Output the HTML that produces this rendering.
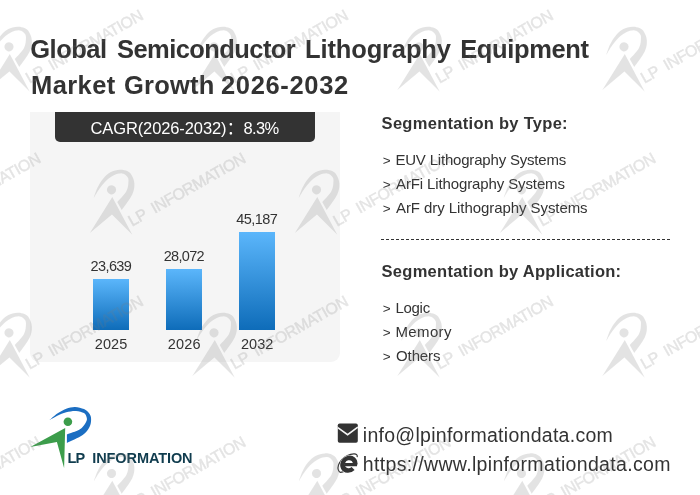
<!DOCTYPE html>
<html><head><meta charset="utf-8"><title>Global Semiconductor Lithography Equipment Market Growth 2026-2032</title>
<style>
html,body{margin:0;padding:0;}
body{width:700px;height:495px;background:#fff;position:relative;overflow:hidden;font-family:"Liberation Sans","Noto Sans CJK SC",sans-serif;color:#333;}
.abs,.t{position:absolute;white-space:nowrap;}
.title,.h{font-weight:bold;}
.badge{color:#fff;}
#panel{left:30px;top:112px;width:310px;height:250px;background:#f5f5f5;border-radius:0 0 9px 9px;}
#badgebg{left:55px;top:112px;width:260px;height:30px;background:#333;border-radius:0 0 5px 5px;}
.bar{background:linear-gradient(#5bb6fb,#0e6cb9);}
#dash{left:381px;top:239px;width:290px;height:1px;background:repeating-linear-gradient(90deg,#333 0,#333 3px,transparent 3px,transparent 5.02px);}
svg{position:absolute;left:0;top:0;}
</style></head><body>
<div class="abs" id="panel"></div>
<div class="abs" id="badgebg"></div>
<div class="abs bar" style="left:93px;top:279px;width:35.5px;height:50.6px"></div>
<div class="abs bar" style="left:166px;top:269px;width:35.5px;height:60.6px"></div>
<div class="abs bar" style="left:239px;top:232px;width:35.5px;height:97.6px"></div>
<div class="abs" id="dash"></div>
<div class="t title" style="left:30.25px;top:34.16px;font-size:25.5px;line-height:31px;letter-spacing:-0.501px">Global</div>
<div class="t title" style="left:117.00px;top:34.16px;font-size:25.5px;line-height:31px;letter-spacing:-0.574px">Semiconductor</div>
<div class="t title" style="left:305.00px;top:34.16px;font-size:25.5px;line-height:31px;letter-spacing:-0.134px">Lithography</div>
<div class="t title" style="left:460.20px;top:34.16px;font-size:25.5px;line-height:31px;letter-spacing:-0.357px">Equipment</div>
<div class="t title" style="left:31.00px;top:69.91px;font-size:25.5px;line-height:31px;letter-spacing:0.418px">Market</div>
<div class="t title" style="left:124.00px;top:69.91px;font-size:25.5px;line-height:31px;letter-spacing:0.228px">Growth</div>
<div class="t title" style="left:221.00px;top:69.91px;font-size:25.5px;line-height:31px;letter-spacing:0.654px">2026-2032</div>
<div class="t badge" style="left:90.50px;top:118.18px;font-size:16.5px;line-height:20px;letter-spacing:-0.112px">CAGR(2026-2032)</div>
<div class="t badge" style="left:226.80px;top:118.18px;font-size:16.5px;line-height:20px;letter-spacing:0.000px">：</div>
<div class="t badge" style="left:243.50px;top:118.18px;font-size:16.5px;line-height:20px;letter-spacing:-0.646px">8.3%</div>
<div class="t val" style="left:90.60px;top:257.68px;font-size:14.5px;line-height:17px;letter-spacing:-0.617px">23,639</div>
<div class="t val" style="left:163.70px;top:247.78px;font-size:14.5px;line-height:17px;letter-spacing:-0.677px">28,072</div>
<div class="t val" style="left:236.20px;top:210.68px;font-size:14.5px;line-height:17px;letter-spacing:-0.557px">45,187</div>
<div class="t yr" style="left:94.70px;top:335.78px;font-size:14.5px;line-height:17px;letter-spacing:0.136px">2025</div>
<div class="t yr" style="left:167.80px;top:335.78px;font-size:14.5px;line-height:17px;letter-spacing:0.136px">2026</div>
<div class="t yr" style="left:241.00px;top:335.78px;font-size:14.5px;line-height:17px;letter-spacing:0.002px">2032</div>
<div class="t h" style="left:381.60px;top:113.28px;font-size:16.5px;line-height:20px;letter-spacing:0.285px">Segmentation by Type:</div>
<div class="t li" style="left:382.80px;top:152.62px;font-size:13.5px;line-height:16px;letter-spacing:0.000px">&gt;</div>
<div class="t li" style="left:395.40px;top:151.10px;font-size:15px;line-height:18px;letter-spacing:-0.190px">EUV Lithography Systems</div>
<div class="t li" style="left:382.80px;top:176.82px;font-size:13.5px;line-height:16px;letter-spacing:0.000px">&gt;</div>
<div class="t li" style="left:396.00px;top:175.30px;font-size:15px;line-height:18px;letter-spacing:-0.119px">ArFi Lithography Systems</div>
<div class="t li" style="left:382.80px;top:200.82px;font-size:13.5px;line-height:16px;letter-spacing:0.000px">&gt;</div>
<div class="t li" style="left:396.00px;top:199.30px;font-size:15px;line-height:18px;letter-spacing:-0.069px">ArF dry Lithography Systems</div>
<div class="t h" style="left:381.60px;top:261.38px;font-size:16.5px;line-height:20px;letter-spacing:0.269px">Segmentation by Application:</div>
<div class="t li" style="left:382.80px;top:300.52px;font-size:13.5px;line-height:16px;letter-spacing:0.000px">&gt;</div>
<div class="t li" style="left:395.40px;top:299.00px;font-size:15px;line-height:18px;letter-spacing:-0.265px">Logic</div>
<div class="t li" style="left:382.80px;top:324.52px;font-size:13.5px;line-height:16px;letter-spacing:0.000px">&gt;</div>
<div class="t li" style="left:395.40px;top:323.00px;font-size:15px;line-height:18px;letter-spacing:0.386px">Memory</div>
<div class="t li" style="left:382.80px;top:348.52px;font-size:13.5px;line-height:16px;letter-spacing:0.000px">&gt;</div>
<div class="t li" style="left:396.00px;top:347.00px;font-size:15px;line-height:18px;letter-spacing:-0.103px">Others</div>
<div class="t ct" style="left:362.80px;top:423.64px;font-size:19.5px;line-height:23px;letter-spacing:0.278px">info@lpinformationdata.com</div>
<div class="t ct" style="left:362.80px;top:452.74px;font-size:19.5px;line-height:23px;letter-spacing:0.334px">https://www.lpinformationdata.com</div>
<svg id="logo" width="700" height="495" viewBox="0 0 700 495">
<defs>
<g id="mark">
<path class="arc" d="M -18.4,-1.5 C -17.10,-2.60 -13.38,-6.18 -10.60,-8.10 C -7.82,-10.02 -4.67,-11.88 -1.70,-13.00 C 1.27,-14.12 4.23,-14.87 7.20,-14.80 C 10.17,-14.73 13.73,-13.72 16.10,-12.60 C 18.47,-11.48 20.22,-9.73 21.40,-8.10 C 22.58,-6.47 23.17,-5.05 23.20,-2.80 C 23.23,-0.55 23.00,2.70 21.60,5.40 C 20.20,8.10 18.57,10.75 14.80,13.40 C 11.03,16.05 1.63,19.98 -1.00,21.30 L -1,12.7 C 1.12,11.90 8.55,9.90 11.70,7.90 C 14.85,5.90 16.70,2.63 17.90,0.70 C 19.10,-1.23 19.20,-2.15 18.90,-3.70 C 18.60,-5.25 17.90,-7.42 16.10,-8.60 C 14.30,-9.78 11.07,-10.65 8.10,-10.80 C 5.13,-10.95 1.42,-10.32 -1.70,-9.50 C -4.82,-8.68 -7.82,-7.23 -10.60,-5.90 C -13.38,-4.57 -17.10,-2.23 -18.40,-1.50 Z"/>
<g class="grn"><circle cx="0" cy="0" r="4.3"/>
<path d="M -37.6,25.2 L -2.7,6.3 L -3.8,46.4 L -11,20.3 Z"/></g>
</g>
<g id="wm" fill="#7a7a7a" opacity="0.2" transform="rotate(-29.5) scale(1.065)">
<use href="#mark"/>
<text y="39.6" font-family="Liberation Sans, sans-serif" font-size="15" stroke="#7a7a7a" stroke-width="0.45"><tspan x="-0.3" textLength="18" lengthAdjust="spacing">LP</tspan> <tspan x="24.3" textLength="99.5" lengthAdjust="spacing">INFORMATION</tspan></text>
</g>
</defs>
<g transform="translate(67.9,421.7)">
<path fill="#1b6ec2" d="M -18.4,-1.5 C -17.10,-2.60 -13.38,-6.18 -10.60,-8.10 C -7.82,-10.02 -4.67,-11.88 -1.70,-13.00 C 1.27,-14.12 4.23,-14.87 7.20,-14.80 C 10.17,-14.73 13.73,-13.72 16.10,-12.60 C 18.47,-11.48 20.22,-9.73 21.40,-8.10 C 22.58,-6.47 23.17,-5.05 23.20,-2.80 C 23.23,-0.55 23.00,2.70 21.60,5.40 C 20.20,8.10 18.57,10.75 14.80,13.40 C 11.03,16.05 1.63,19.98 -1.00,21.30 L -1,12.7 C 1.12,11.90 8.55,9.90 11.70,7.90 C 14.85,5.90 16.70,2.63 17.90,0.70 C 19.10,-1.23 19.20,-2.15 18.90,-3.70 C 18.60,-5.25 17.90,-7.42 16.10,-8.60 C 14.30,-9.78 11.07,-10.65 8.10,-10.80 C 5.13,-10.95 1.42,-10.32 -1.70,-9.50 C -4.82,-8.68 -7.82,-7.23 -10.60,-5.90 C -13.38,-4.57 -17.10,-2.23 -18.40,-1.50 Z"/>
<circle cx="0" cy="0" r="4.3" fill="#3c9d4b"/>
<path fill="#3c9d4b" d="M -37.6,25.2 L -2.7,6.3 L -3.8,46.4 L -11,20.3 Z"/>
<text y="40.9" fill="#103c4e" font-family="Liberation Sans, sans-serif" font-weight="bold" font-size="14.5"><tspan x="-0.4" textLength="17.4" lengthAdjust="spacing">LP</tspan> <tspan x="24.3" textLength="100.4" lengthAdjust="spacing">INFORMATION</tspan></text>
</g>
<!-- envelope -->
<g transform="translate(337.8,423.4)">
<rect x="0" y="0" width="20" height="19.3" rx="1.8" fill="#333"/>
<path d="M 0,4.3 L 9.8,11.3 L 20,3.8" fill="none" stroke="#f4f4f4" stroke-width="1.6"/>
</g>
<!-- ie -->
<g transform="translate(348.9,463.4)" fill="none" stroke="#333">
<path d="M 8.3,-6.2 C 8.7,-8.6 7.5,-9.7 5,-9.6 C 1,-9.4 -4,-7 -7.1,-3.8 C -10.2,-0.5 -11.6,4 -10.6,6.5 C -10,8.2 -9.6,8.8 -8.5,8.9 C -7.5,8.9 -6.5,8.6 -5.3,8.2" stroke-width="1.2"/>
<g transform="skewX(-6)">
<path d="M 6.3,1 A 6.3,6.3 0 1 0 4.7,5" stroke="#fff" stroke-width="5.4" stroke-opacity="0.85"/>
<path d="M 6.3,1 A 6.3,6.3 0 1 0 4.7,5" stroke-width="4.5"/>
<path d="M -4.5,1.2 L 8.4,1.2" stroke-width="3.3"/>
</g>
</g>
</svg>
<svg id="wms" width="700" height="495" viewBox="0 0 700 495" style="pointer-events:none">
<use href="#wm" x="9" y="46.8"/>
<use href="#wm" x="214" y="46.8"/>
<use href="#wm" x="419" y="46.8"/>
<use href="#wm" x="624" y="46.8"/>
<use href="#wm" x="-93.5" y="189.8"/>
<use href="#wm" x="111.5" y="189.8"/>
<use href="#wm" x="316.5" y="189.8"/>
<use href="#wm" x="521.5" y="189.8"/>
<use href="#wm" x="9" y="332.8"/>
<use href="#wm" x="214" y="332.8"/>
<use href="#wm" x="419" y="332.8"/>
<use href="#wm" x="624" y="332.8"/>
<use href="#wm" x="-93.5" y="473.5"/>
<use href="#wm" x="111.5" y="473.5"/>
<use href="#wm" x="316.5" y="473.5"/>
<use href="#wm" x="521.5" y="473.5"/>
</svg>
</body></html>
